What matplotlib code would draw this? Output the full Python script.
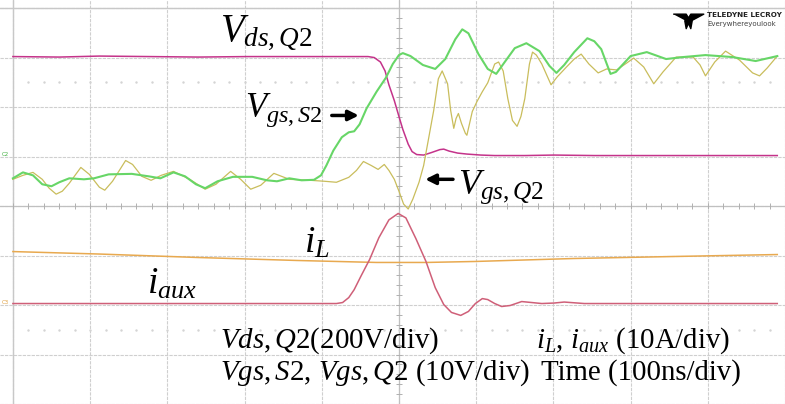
"""
Scope capture: turn-on transition of Q2 with auxiliary switch S2.
Traces are stored as time (ns) vs. screen divisions.
"""

import numpy as np
import matplotlib
matplotlib.use("Agg")
import matplotlib.pyplot as plt

plt.rcParams["font.family"] = ["Liberation Serif", "DejaVu Serif"]
plt.rcParams["mathtext.fontset"] = "custom"
plt.rcParams["mathtext.rm"] = "Liberation Serif"
plt.rcParams["mathtext.it"] = "Liberation Serif:italic"

# ---- traces (time in ns, amplitude in divisions) ----
vds_t = [0, 60, 112, 176, 240, 304, 368, 432, 460, 468, 476, 482, 487, 494, 500, 505,
         512, 517, 523, 532, 542, 553, 558, 565, 576, 588, 606, 624, 663, 701, 753,
         817, 881, 990]
vds_v = [3.02, 3.01, 3.03, 3.02, 3.01, 3.02, 3.02, 3.02, 3.02, 3.00, 2.91, 2.73, 2.45,
         2.13, 1.81, 1.55, 1.25, 1.10, 1.04, 1.03, 1.08, 1.14, 1.15, 1.11, 1.07, 1.05,
         1.03, 1.02, 1.02, 1.03, 1.02, 1.02, 1.02, 1.02]

vgs_s2_t = [0, 13, 26, 38, 50, 60, 73, 92, 105, 124, 154, 176, 191, 208, 223, 237, 249,
            265, 285, 310, 329, 342, 358, 374, 390, 399, 406, 415, 426, 435, 442, 449,
            458, 471, 483, 492, 500, 505, 515, 531, 547, 560, 573, 582, 590, 603, 615,
            626, 637, 650, 665, 682, 695, 704, 714, 727, 744, 753, 762, 774, 781, 800,
            821, 846, 868, 897, 932, 962, 990]
vgs_s2_v = [0.56, 0.68, 0.62, 0.44, 0.40, 0.48, 0.56, 0.54, 0.56, 0.64, 0.65, 0.60, 0.56,
            0.68, 0.60, 0.44, 0.36, 0.50, 0.59, 0.59, 0.52, 0.50, 0.56, 0.52, 0.53, 0.62,
            0.82, 1.12, 1.39, 1.49, 1.51, 1.65, 1.97, 2.31, 2.59, 2.87, 3.05, 3.09, 3.03,
            2.85, 2.77, 2.97, 3.37, 3.57, 3.49, 3.07, 2.77, 2.67, 2.91, 3.19, 3.29, 3.13,
            2.83, 2.69, 2.85, 3.11, 3.39, 3.33, 3.17, 2.67, 2.71, 3.03, 3.11, 2.97, 3.01,
            3.05, 3.01, 2.93, 3.03]

vgs_q2_t = [0, 13, 26, 38, 47, 56, 64, 73, 88, 99, 112, 119, 129, 146, 155, 167, 179,
            192, 208, 229, 249, 263, 282, 295, 308, 321, 338, 358, 385, 404, 419, 435,
            445, 454, 464, 473, 481, 487, 494, 500, 506, 512, 518, 526, 532, 538, 545,
            551, 556, 563, 567, 571, 574, 577, 581, 586, 588, 595, 601, 608, 615, 624,
            629, 635, 641, 647, 653, 658, 663, 669, 673, 678, 685, 697, 705, 717, 727,
            736, 746, 758, 769, 782, 795, 804, 817, 830, 842, 859, 881, 890, 897, 909,
            923, 941, 958, 967, 977, 990]
vgs_q2_v = [0.54, 0.62, 0.68, 0.54, 0.36, 0.24, 0.30, 0.46, 0.78, 0.64, 0.38, 0.32, 0.50,
            0.92, 0.84, 0.60, 0.52, 0.62, 0.70, 0.54, 0.34, 0.44, 0.70, 0.54, 0.34, 0.42,
            0.66, 0.54, 0.52, 0.50, 0.48, 0.58, 0.72, 0.90, 0.82, 0.74, 0.84, 0.72, 0.54,
            0.30, 0.04, -0.06, 0.14, 0.48, 0.82, 1.33, 1.93, 2.57, 2.73, 2.47, 1.93, 1.57,
            1.77, 1.87, 1.67, 1.47, 1.43, 1.91, 2.11, 2.31, 2.49, 2.87, 2.91, 2.73, 2.17,
            1.73, 1.61, 1.81, 2.17, 2.87, 3.11, 3.05, 2.87, 2.45, 2.61, 2.81, 2.97, 3.07,
            2.87, 2.69, 2.77, 2.75, 2.89, 2.99, 2.81, 2.47, 2.71, 3.01, 3.01, 2.85, 2.63,
            2.91, 3.13, 2.95, 2.69, 2.63, 2.79, 3.03]

il_t = [0, 112, 240, 368, 471, 535, 599, 727, 855, 990]
il_v = [-0.92, -0.97, -1.04, -1.10, -1.14, -1.14, -1.12, -1.06, -1.02, -0.98]

iaux_t = [0, 419, 427, 435, 442, 451, 462, 474, 487, 499, 509, 522, 535, 547, 558, 568,
          580, 590, 599, 608, 615, 624, 633, 644, 659, 672, 685, 701, 714, 740, 804,
          881, 990]
iaux_v = [-1.97, -1.97, -1.95, -1.85, -1.69, -1.41, -1.08, -0.64, -0.28, -0.15, -0.24,
          -0.66, -1.12, -1.65, -1.99, -2.15, -2.21, -2.13, -1.97, -1.87, -1.89, -1.97,
          -2.03, -2.01, -1.93, -1.95, -1.97, -1.96, -1.94, -1.97, -1.97, -1.97, -1.97]

fig = plt.figure(figsize=(7.85, 4.04), dpi=100)
ax = fig.add_axes([0, 0, 1, 1])
ax.set_xlim(-16.7, 990)
ax.set_ylim(-3.885, 4.163)

# ---- scope graticule ----
ax.set_xticks(np.arange(0, 1001, 100))
ax.set_yticks(np.arange(-4, 5, 1))
ax.grid(True, color="#cfcfcf", lw=0.8, ls=(0, (3, 1)))
ax.tick_params(left=False, bottom=False, labelleft=False, labelbottom=False)
for s in ax.spines.values():
    s.set_visible(False)
ax.axvline(0, color="#c8c8c8", lw=1.0)
ax.axhline(4, color="#c8c8c8", lw=1.0)
ax.axhline(0, color="#c0c0c0", lw=0.9)
ax.axvline(500, color="#c0c0c0", lw=0.9)
minor_x = np.arange(0, 1000, 20)
minor_y = np.arange(-3.8, 4.0, 0.2)
ax.plot(minor_x, np.zeros_like(minor_x), "|", color="#b0b0b0", ms=4, mew=0.7)
ax.plot(np.full_like(minor_y, 500), minor_y, "_", color="#b0b0b0", ms=4, mew=0.7)
for yy in (2.5, -2.5):
    ax.plot(minor_x[minor_x > 0], np.full(len(minor_x) - 1, yy), ".", color="#d4d4d4", ms=1.5)

# ---- traces ----
ax.plot(il_t, il_v, color="#e8a94f", lw=1.1)
ax.plot(iaux_t, iaux_v, color="#cf5f78", lw=1.1)
ax.plot(vds_t, vds_v, color="#c4338a", lw=1.1)
ax.plot(vgs_q2_t, vgs_q2_v, color="#c9bd5c", lw=0.9)
ax.plot(vgs_s2_t, vgs_s2_v, color="#67d667", lw=1.5)

# channel markers on the left
ax.text(-15, 1.0, "C2", color="#40b040", fontsize=4, va="bottom", family="DejaVu Sans")
ax.text(-15, -2.0, "C3", color="#e0a040", fontsize=4, va="bottom", family="DejaVu Sans")

# ---- labels ----
arrow = dict(arrowstyle="-|>,head_length=0.6,head_width=0.3", lw=2.5, color="k",
             shrinkA=0, shrinkB=0)
ax.text(268, 3.35, r"$V_{ds,Q2}$", fontsize=28, va="baseline")
ax.text(300, 1.81, r"$V_{gs,S2}$", fontsize=25, va="baseline")
ax.annotate("", xy=(448, 1.83), xytext=(413, 1.83), arrowprops=arrow)
ax.text(576, 0.24, r"$V_{gs,Q2}$", fontsize=26, va="baseline")
ax.annotate("", xy=(534, 0.54), xytext=(570, 0.54), arrowprops=arrow)
ax.text(377, -0.94, r"$i_L$", fontsize=27, va="baseline")
ax.text(174, -1.76, r"$i_{aux}$", fontsize=27, va="baseline")

ax.text(268, -2.87, r"$Vds,Q$2(200V/div)", fontsize=20.8, va="baseline")
ax.text(268, -3.51, r"$Vgs,S$2, $Vgs,Q$2 (10V/div)", fontsize=20.8, va="baseline")
ax.text(677, -2.87, r"$i_L$, $i_{aux}$ (10A/div)", fontsize=20.8, va="baseline")
ax.text(684, -3.51, "Time (100ns/div)", fontsize=20.8, va="baseline")

# scope logo
logo = [(-1.0, 0.35), (-0.15, 0.35), (0.0, 0.1), (0.15, 0.35), (1.0, 0.35),
        (0.25, -0.05), (0.15, -0.6), (0.0, -0.25), (-0.15, -0.6), (-0.25, -0.05)]
ax.plot([875], [3.78], marker=logo, ms=22, color="k", lw=0)
ax.text(899, 3.86, "TELEDYNE LECROY", fontsize=5.2, weight="bold", family="DejaVu Sans",
        va="center", color="#222222")
ax.text(899, 3.68, "Everywhereyoulook", fontsize=5.0, family="DejaVu Sans", va="center",
        color="#444444")

plt.savefig("out.png", dpi=100)
plt.close()
